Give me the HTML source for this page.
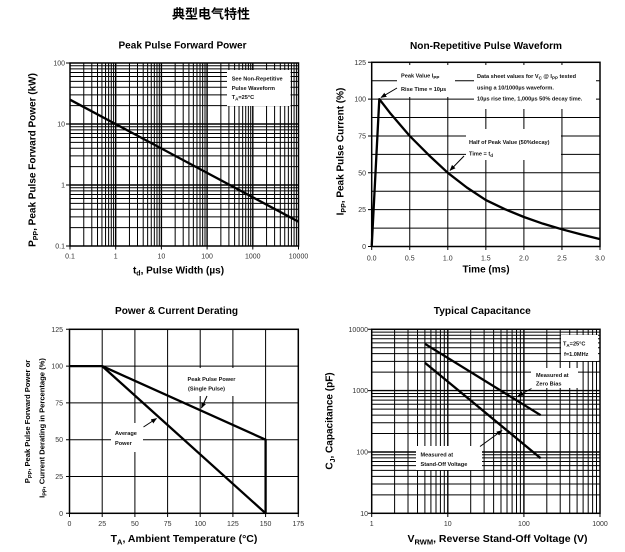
<!DOCTYPE html>
<html><head><meta charset="utf-8"><style>
html,body{margin:0;padding:0;background:#fff;}
svg{display:block;}
text{font-family:"Liberation Sans",Arial,"Noto Sans CJK SC",sans-serif;}
.t{font-weight:bold;fill:#000;}
.tk{font-size:7px;fill:#333;}
.an{font-size:5.6px;font-weight:bold;fill:#111;}
.g{stroke:#000;stroke-width:1;fill:none;}
.gm{stroke:#000;stroke-width:1.4;fill:none;}
.b{stroke:#000;stroke-width:1.5;fill:none;}
.d{stroke:#000;stroke-width:2.3;fill:none;stroke-linejoin:round;}
.ar{stroke:#000;stroke-width:1;fill:none;}
</style></head><body>
<svg width="625" height="552" viewBox="0 0 625 552" xmlns="http://www.w3.org/2000/svg">
<defs>
<marker id="ah" viewBox="0 0 10 8" refX="9" refY="4" markerWidth="6" markerHeight="5" orient="auto" markerUnits="userSpaceOnUse"><path d="M0 0L10 4L0 8z" fill="#000"/></marker>
</defs>
<rect width="625" height="552" fill="#fff"/>

<!-- Main title -->
<text x="211" y="18.5" text-anchor="middle" class="t" style="font-family:'Liberation Sans','Noto Sans CJK SC',sans-serif;font-size:13px;">典型电气特性</text>

<!-- ============ Chart 1 ============ -->
<text x="182.5" y="48.5" text-anchor="middle" class="t" font-size="10" textLength="128" lengthAdjust="spacingAndGlyphs">Peak Pulse Forward Power</text>
<path class="g" d="M83.76 63V246M91.8 63V246M97.51 63V246M101.94 63V246M105.56 63V246M108.62 63V246M111.27 63V246M113.6 63V246M129.46 63V246M137.5 63V246M143.21 63V246M147.64 63V246M151.26 63V246M154.32 63V246M156.97 63V246M159.3 63V246M175.16 63V246M183.2 63V246M188.91 63V246M193.34 63V246M196.96 63V246M200.02 63V246M202.67 63V246M205 63V246M220.86 63V246M228.9 63V246M234.61 63V246M239.04 63V246M242.66 63V246M245.72 63V246M248.37 63V246M250.7 63V246M266.56 63V246M274.6 63V246M280.31 63V246M284.74 63V246M288.36 63V246M291.42 63V246M294.07 63V246M296.4 63V246"/>
<path class="g" d="M70 227.64H298.5M70 216.9H298.5M70 209.28H298.5M70 203.36H298.5M70 198.54H298.5M70 194.45H298.5M70 190.92H298.5M70 187.81H298.5M70 166.64H298.5M70 155.9H298.5M70 148.28H298.5M70 142.36H298.5M70 137.54H298.5M70 133.45H298.5M70 129.92H298.5M70 126.81H298.5M70 105.64H298.5M70 94.9H298.5M70 87.28H298.5M70 81.36H298.5M70 76.54H298.5M70 72.45H298.5M70 68.92H298.5M70 65.81H298.5"/>
<path class="gm" d="M115.7 63V246M161.4 63V246M207.1 63V246M252.8 63V246M70 185H298.5M70 124H298.5"/>
<rect x="227" y="70" width="63.5" height="36" fill="#fff"/>
<rect class="b" x="70" y="63" width="228.5" height="183"/>
<path class="ar" d="M66 63H70M66 124H70M66 185H70M66 246H70M70 246V249.5M115.7 246V249.5M161.4 246V249.5M207.1 246V249.5M252.8 246V249.5M298.5 246V249.5"/>
<path class="d" d="M70 99.7L298.5 221.7"/>
<text class="an" x="231.7" y="80.5">See Non-Repetitive</text>
<text class="an" x="231.7" y="90">Pulse Waveform</text>
<text class="an" x="231.7" y="99">T<tspan font-size="4.5" dy="1.5">A</tspan><tspan dy="-1.5">=25°C</tspan></text>
<g class="tk">
<text x="65" y="65.5" text-anchor="end">100</text>
<text x="65" y="126.5" text-anchor="end">10</text>
<text x="65" y="187.5" text-anchor="end">1</text>
<text x="65" y="248.5" text-anchor="end">0.1</text>
<text x="70" y="258.5" text-anchor="middle">0.1</text>
<text x="115.7" y="258.5" text-anchor="middle">1</text>
<text x="161.4" y="258.5" text-anchor="middle">10</text>
<text x="207.1" y="258.5" text-anchor="middle">100</text>
<text x="252.8" y="258.5" text-anchor="middle">1000</text>
<text x="298.5" y="258.5" text-anchor="middle">10000</text>
</g>
<text x="178.5" y="273.5" text-anchor="middle" class="t" font-size="10">t<tspan font-size="7" dy="2">d</tspan><tspan dy="-2">, Pulse Width (µs)</tspan></text>
<text transform="translate(35.5,160) rotate(-90)" text-anchor="middle" class="t" font-size="10">P<tspan font-size="7" dy="2.5">PP</tspan><tspan dy="-2.5">, Peak Pulse Forward Power (kW)</tspan></text>

<!-- ============ Chart 2 ============ -->
<text x="486" y="49" text-anchor="middle" class="t" font-size="10" textLength="152" lengthAdjust="spacingAndGlyphs">Non-Repetitive Pulse Waveform</text>
<path class="g" d="M371.7 80.7H600M371.7 99.1H600M371.7 117.5H600M371.7 136H600M371.7 154.4H600M371.7 172.8H600M371.7 191.2H600M371.7 209.65H600M371.7 228.1H600M409.75 62.3V246.5M447.8 62.3V246.5M485.85 62.3V246.5M523.9 62.3V246.5M561.95 62.3V246.5"/>
<rect x="397" y="65" width="58" height="32" fill="#fff"/>
<rect x="474" y="65" width="122" height="44" fill="#fff"/>
<rect x="466" y="129" width="95" height="31" fill="#fff"/>
<rect class="b" x="371.7" y="62.3" width="228.3" height="184.2"/>
<path class="ar" d="M368 62.3H371.7M368 99.1H371.7M368 136H371.7M368 172.8H371.7M368 209.65H371.7M368 246.5H371.7M371.7 246.5V250M409.75 246.5V250M447.8 246.5V250M485.85 246.5V250M523.9 246.5V250M561.95 246.5V250M600 246.5V250"/>
<path class="d" d="M371.7 246.5L379.3 99.1L390.7 113.8L409.75 136L428.8 155.1L447.8 172.8L466.8 187.5L485.85 200.1L504.9 209.2L523.9 217L542.9 223.65L561.95 229.3L581 234.4L600 239.1"/>
<line class="ar" x1="397" y1="88" x2="381" y2="97.5" marker-end="url(#ah)"/>
<line class="ar" x1="464" y1="156" x2="450" y2="170.5" marker-end="url(#ah)"/>
<text class="an" x="401" y="77.5">Peak Value I<tspan font-size="4.5" dy="1.5">PP</tspan></text>
<text class="an" x="401" y="91">Rise Time = 10µs</text>
<text class="an" x="477" y="78">Data sheet values for V<tspan font-size="4.5" dy="1.5">C</tspan><tspan dy="-1.5"> @ I</tspan><tspan font-size="4.5" dy="1.5">PP</tspan><tspan dy="-1.5"> tested</tspan></text>
<text class="an" x="477" y="89.5">using a 10/1000µs waveform.</text>
<text class="an" x="477" y="100.5">10µs rise time, 1,000µs 50% decay time.</text>
<text class="an" x="469" y="144">Half of Peak Value (50%decay)</text>
<text class="an" x="469" y="155.5">Time = t<tspan font-size="4.5" dy="1.5">d</tspan></text>
<g class="tk">
<text x="366" y="64.8" text-anchor="end">125</text>
<text x="366" y="101.6" text-anchor="end">100</text>
<text x="366" y="138.5" text-anchor="end">75</text>
<text x="366" y="175.3" text-anchor="end">50</text>
<text x="366" y="212.1" text-anchor="end">25</text>
<text x="366" y="249" text-anchor="end">0</text>
<text x="371.7" y="260.3" text-anchor="middle">0.0</text>
<text x="409.75" y="260.3" text-anchor="middle">0.5</text>
<text x="447.8" y="260.3" text-anchor="middle">1.0</text>
<text x="485.85" y="260.3" text-anchor="middle">1.5</text>
<text x="523.9" y="260.3" text-anchor="middle">2.0</text>
<text x="561.95" y="260.3" text-anchor="middle">2.5</text>
<text x="600" y="260.3" text-anchor="middle">3.0</text>
</g>
<text x="486" y="272.5" text-anchor="middle" class="t" font-size="10">Time (ms)</text>
<text transform="translate(343.5,151.5) rotate(-90)" text-anchor="middle" class="t" font-size="10">I<tspan font-size="7" dy="2.5">PP</tspan><tspan dy="-2.5">, Peak Pulse Current (%)</tspan></text>

<!-- ============ Chart 3 ============ -->
<text x="176.5" y="314" text-anchor="middle" class="t" font-size="10" textLength="123" lengthAdjust="spacingAndGlyphs">Power &amp; Current Derating</text>
<path class="g" d="M69.5 366.1H298.3M69.5 402.9H298.3M69.5 439.7H298.3M69.5 476.5H298.3M102.2 329.3V513.3M134.9 329.3V513.3M167.6 329.3V513.3M200.2 329.3V513.3M232.9 329.3V513.3M265.6 329.3V513.3"/>
<rect x="185" y="368" width="52" height="28" fill="#fff"/>
<rect x="111" y="423" width="32" height="29" fill="#fff"/>
<rect class="b" x="69.5" y="329.3" width="228.8" height="184"/>
<path class="ar" d="M66 329.3H69.5M66 366.1H69.5M66 402.9H69.5M66 439.7H69.5M66 476.5H69.5M66 513.3H69.5M69.5 513.3V517M102.2 513.3V517M134.9 513.3V517M167.6 513.3V517M200.2 513.3V517M232.9 513.3V517M265.6 513.3V517M298.3 513.3V517"/>
<path class="d" d="M69.5 366.1L102.2 366.1L265.6 439.7L265.6 513.3"/>
<path class="d" d="M102.2 366.1L265.6 513.3"/>
<line class="ar" x1="207" y1="396" x2="201.5" y2="408" marker-end="url(#ah)"/>
<line class="ar" x1="143.5" y1="427" x2="156.5" y2="418.5" marker-end="url(#ah)"/>
<text class="an" x="187.5" y="381">Peak Pulse Power</text>
<text class="an" x="188" y="390.5">(Single Pulse)</text>
<text class="an" x="115" y="435">Average</text>
<text class="an" x="115" y="445">Power</text>
<g class="tk">
<text x="63" y="331.8" text-anchor="end">125</text>
<text x="63" y="368.6" text-anchor="end">100</text>
<text x="63" y="405.4" text-anchor="end">75</text>
<text x="63" y="442.2" text-anchor="end">50</text>
<text x="63" y="479" text-anchor="end">25</text>
<text x="63" y="515.8" text-anchor="end">0</text>
<text x="69.5" y="526" text-anchor="middle">0</text>
<text x="102.2" y="526" text-anchor="middle">25</text>
<text x="134.9" y="526" text-anchor="middle">50</text>
<text x="167.6" y="526" text-anchor="middle">75</text>
<text x="200.2" y="526" text-anchor="middle">100</text>
<text x="232.9" y="526" text-anchor="middle">125</text>
<text x="265.6" y="526" text-anchor="middle">150</text>
<text x="298.3" y="526" text-anchor="middle">175</text>
</g>
<text x="184" y="542" text-anchor="middle" class="t" font-size="10.5">T<tspan font-size="7.5" dy="2.5">A</tspan><tspan dy="-2.5">, Ambient Temperature (°C)</tspan></text>
<text transform="translate(30,421.5) rotate(-90)" text-anchor="middle" class="t" font-size="7.6">P<tspan font-size="5.5" dy="2">PP</tspan><tspan dy="-2">, Peak Pulse Forward Power or</tspan></text>
<text transform="translate(44.5,428) rotate(-90)" text-anchor="middle" class="t" font-size="7.6">I<tspan font-size="5.5" dy="2">PP</tspan><tspan dy="-2">, Current Derating in Percentage (%)</tspan></text>

<!-- ============ Chart 4 ============ -->
<text x="482.3" y="314" text-anchor="middle" class="t" font-size="10" textLength="97" lengthAdjust="spacingAndGlyphs">Typical Capacitance</text>
<path class="g" d="M394.61 329.3V513.3M408.01 329.3V513.3M417.52 329.3V513.3M424.89 329.3V513.3M430.91 329.3V513.3M436 329.3V513.3M440.41 329.3V513.3M444.3 329.3V513.3M470.71 329.3V513.3M484.11 329.3V513.3M493.62 329.3V513.3M500.99 329.3V513.3M507.01 329.3V513.3M512.1 329.3V513.3M516.51 329.3V513.3M520.4 329.3V513.3M546.81 329.3V513.3M560.21 329.3V513.3M569.72 329.3V513.3M577.09 329.3V513.3M583.11 329.3V513.3M588.2 329.3V513.3M592.61 329.3V513.3M596.5 329.3V513.3"/>
<path class="g" d="M371.7 494.84H600M371.7 484.04H600M371.7 476.38H600M371.7 470.43H600M371.7 465.58H600M371.7 461.47H600M371.7 457.92H600M371.7 454.79H600M371.7 433.54H600M371.7 422.74H600M371.7 415.08H600M371.7 409.13H600M371.7 404.28H600M371.7 400.17H600M371.7 396.62H600M371.7 393.49H600M371.7 372.14H600M371.7 361.34H600M371.7 353.68H600M371.7 347.73H600M371.7 342.88H600M371.7 338.77H600M371.7 335.22H600M371.7 332.09H600"/>
<path class="gm" d="M447.8 329.3V513.3M523.9 329.3V513.3M371.7 452H600M371.7 390.6H600"/>
<rect x="561" y="335" width="37" height="26" fill="#fff"/>
<rect x="531" y="368" width="47" height="20" fill="#fff"/>
<rect x="416" y="446" width="66" height="24" fill="#fff"/>
<rect class="b" x="371.7" y="329.3" width="228.3" height="184"/>
<path class="ar" d="M368 329.3H371.7M368 390.6H371.7M368 452H371.7M368 513.3H371.7M371.7 513.3V517M447.8 513.3V517M523.9 513.3V517M600 513.3V517"/>
<path class="d" d="M424.9 343.8L540.65 415.2"/>
<path class="d" d="M424.9 362.7L540.65 458.2"/>
<line class="ar" x1="531.5" y1="388.5" x2="518" y2="396" marker-end="url(#ah)"/>
<line class="ar" x1="480" y1="446.5" x2="502" y2="430.5" marker-end="url(#ah)"/>
<text class="an" x="563" y="345.5">T<tspan font-size="4.5" dy="1.5">A</tspan><tspan dy="-1.5">=25°C</tspan></text>
<text class="an" x="564" y="356">f=1.0MHz</text>
<text class="an" x="536" y="377">Measured at</text>
<text class="an" x="536" y="385.5">Zero Bias</text>
<text class="an" x="420.5" y="456.5">Measured at</text>
<text class="an" x="420.5" y="466">Stand-Off Voltage</text>
<g class="tk">
<text x="368" y="331.8" text-anchor="end">10000</text>
<text x="368" y="393.1" text-anchor="end">1000</text>
<text x="368" y="454.5" text-anchor="end">100</text>
<text x="368" y="515.8" text-anchor="end">10</text>
<text x="371.7" y="526" text-anchor="middle">1</text>
<text x="447.8" y="526" text-anchor="middle">10</text>
<text x="523.9" y="526" text-anchor="middle">100</text>
<text x="600" y="526" text-anchor="middle">1000</text>
</g>
<text x="497.5" y="542" text-anchor="middle" class="t" font-size="10.5">V<tspan font-size="7.5" dy="2.5">RWM</tspan><tspan dy="-2.5">, Reverse Stand-Off Voltage (V)</tspan></text>
<text transform="translate(332.5,421) rotate(-90)" text-anchor="middle" class="t" font-size="10">C<tspan font-size="7" dy="2.5">J</tspan><tspan dy="-2.5">, Capacitance (pF)</tspan></text>
</svg>
</body></html>
